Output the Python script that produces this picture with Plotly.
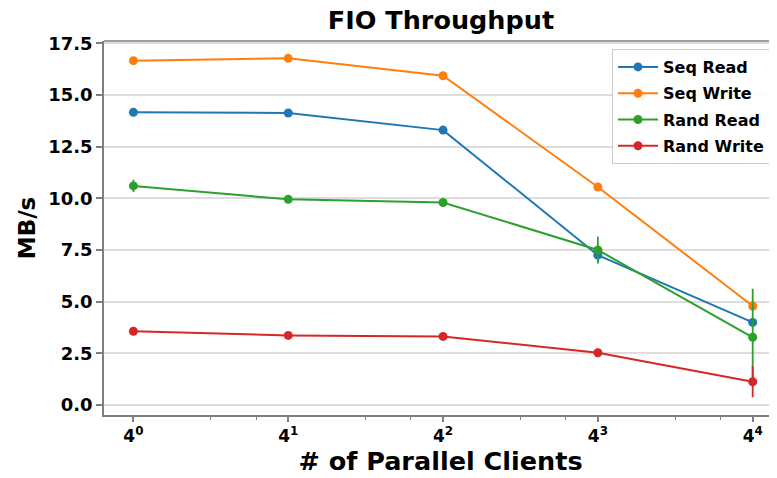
import plotly.graph_objects as go

clients = [1, 4, 16, 64, 256]
tick_labels = ["4<sup>0</sup>", "4<sup>1</sup>", "4<sup>2</sup>", "4<sup>3</sup>", "4<sup>4</sup>"]

series_names = ["Seq Read", "Seq Write", "Rand Read", "Rand Write"]
seq_read = [14.16, 14.13, 13.3, 7.25, 4.0]
seq_write = [16.66, 16.77, 15.93, 10.55, 4.79]
rand_read = [10.6, 9.95, 9.8, 7.5, 3.28]
rand_write = [3.57, 3.37, 3.32, 2.53, 1.13]

seq_read_err = [0.1, 0.08, 0.12, 0.35, 0.2]
seq_write_err = [0.05, 0.05, 0.08, 0.1, 0.15]
rand_read_err = [0.3, 0.1, 0.1, 0.65, 2.35]
rand_write_err = [0.05, 0.05, 0.05, 0.05, 0.75]

colors = ["#1f77b4", "#ff7f0e", "#2ca02c", "#d62728"]

fig = go.Figure()
for name, vals, errs, col in zip(series_names,
                                  [seq_read, seq_write, rand_read, rand_write],
                                  [seq_read_err, seq_write_err, rand_read_err, rand_write_err],
                                  colors):
    fig.add_trace(go.Scatter(
        x=clients, y=vals, name="<b>" + name + "</b>", mode="lines+markers",
        legendgroup=name,
        line=dict(color=col, width=2),
        marker=dict(color=col, size=9),
        error_y=dict(type="data", array=errs, visible=True, color=col, thickness=1.8, width=0),
    ))

font_family = "DejaVu Sans"
spine = "#7f7f7f"

# page body has an 8px default margin: the figure is drawn 8px in from the top-left
W, H = 769, 470
L, T, B = 96, 33, 63
PW, PH = W - L, H - T - B

fig.update_layout(
    width=W, height=H,
    margin=dict(l=L, r=0, t=T, b=B, autoexpand=False),
    paper_bgcolor="white", plot_bgcolor="white",
    font=dict(family=font_family, color="#1a1a1a"),
    title=dict(text="<b>FIO Throughput</b>", x=433 / W, xanchor="center",
               y=1 - 12 / H, yanchor="middle", automargin=False,
               font=dict(size=25.5, family=font_family, color="black")),
    showlegend=True,
    legend=dict(x=(604 - L) / PW, xanchor="left", y=1 - 8 / PH, yanchor="top",
                bgcolor="rgba(255,255,255,0.9)", bordercolor="#cccccc", borderwidth=1,
                font=dict(size=16, family=font_family, color="black"),
                itemwidth=40, tracegroupgap=2.5),
)

fig.update_xaxes(
    type="log", range=[-0.19 * 0.60206, 4.157 * 0.60206], automargin=False,
    tickvals=clients, ticktext=["<b>" + t + "</b>" for t in tick_labels],
    tickfont=dict(size=17, family=font_family, color="black"),
    ticks="outside", ticklen=5, tickcolor=spine, tickwidth=1.5,
    minor=dict(tickvals=[0.75, 2, 3, 8, 12, 32, 48, 128, 192], ticks="outside", ticklen=3,
               tickcolor=spine, tickwidth=1, showgrid=False),
    showgrid=False, zeroline=False,
    showline=True, linecolor=spine, linewidth=1.5,
    title=dict(text="<b># of Parallel Clients</b>", font=dict(size=25.5, family=font_family, color="black"),
               standoff=4),
)

fig.update_yaxes(
    range=[-0.48, 17.61], automargin=False,
    tickvals=[0, 2.5, 5, 7.5, 10, 12.5, 15, 17.5],
    ticktext=["<b>%.1f</b>" % v for v in [0, 2.5, 5, 7.5, 10, 12.5, 15, 17.5]],
    tickfont=dict(size=18, family=font_family, color="black"),
    ticks="outside", ticklen=6, tickcolor=spine, tickwidth=1.5,
    showgrid=True, gridcolor="#dddddd", gridwidth=1.5,
    zeroline=False, showline=True, linecolor=spine, linewidth=1.5,
    title=dict(text="<b>MB/s</b>", font=dict(size=23, family=font_family, color="black"), standoff=6),
)

fig.add_shape(type="line", xref="paper", yref="paper", x0=0, x1=1, y0=1, y1=1,
              line=dict(color=spine, width=1.5))

fig.write_html("out.html")
